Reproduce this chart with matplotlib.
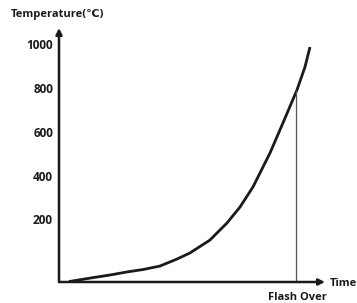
import matplotlib
matplotlib.use("Agg")
import matplotlib.pyplot as plt

plt.rcParams['font.family'] = ['Open Sans', 'DejaVu Sans']

# data (time in arbitrary units, temperature in degC)
time = [10, 34, 51, 68, 84, 101, 118, 131, 151, 159, 168, 181, 194, 211, 224, 238, 246, 251]
temp = [-78, -60, -48, -34, -23, -7, 25, 53, 112, 149, 190, 263, 355, 510, 648, 799, 904, 995]
yticks = [200, 400, 600, 800, 1000]
flash_time = 237
flash_temp = 795

W, H = 357, 303
fig = plt.figure(figsize=(W / 100, H / 100), dpi=100)
x0, x1 = 59, 325
y0, y1 = 282, 28
ax = fig.add_axes([x0 / W, 1 - y0 / H, (x1 - x0) / W, (y0 - y1) / H])
ax.set_xlim(0, x1 - x0)
ax.set_ylim(-80, 1082)
ax.axis('off')

ax.plot(time, temp, color='#1a1a1a', lw=2.0, solid_capstyle='butt',
        solid_joinstyle='round')
ax.plot([flash_time, flash_time], [-80, flash_temp], color='#555555', lw=0.9)

# axes with arrows
ax.annotate('', xy=(0, 1082), xytext=(0, -80),
            arrowprops=dict(arrowstyle='-|>', color='#1a1a1a', lw=1.8,
                            mutation_scale=9, shrinkA=0, shrinkB=0),
            annotation_clip=False)
ax.annotate('', xy=(x1 - x0, -80), xytext=(0, -80),
            arrowprops=dict(arrowstyle='-|>', color='#1a1a1a', lw=1.8,
                            mutation_scale=9, shrinkA=0, shrinkB=0),
            annotation_clip=False)

for v in yticks:
    ax.text(-6, v, str(v), ha='right', va='center', fontsize=8.5,
            fontweight='bold', color='#1a1a1a')

fig.text(11 / W, 1 - 15 / H, 'Temperature(℃)', ha='left', va='center',
         fontsize=8, fontweight='bold', color='#1a1a1a')
fig.text(330 / W, 1 - 283 / H, 'Time', ha='left', va='center',
         fontsize=8, fontweight='bold', color='#1a1a1a')
fig.text(297 / W, 1 - 297 / H, 'Flash Over', ha='center', va='center',
         fontsize=8, fontweight='bold', color='#1a1a1a')

fig.savefig('out.png', dpi=100)
